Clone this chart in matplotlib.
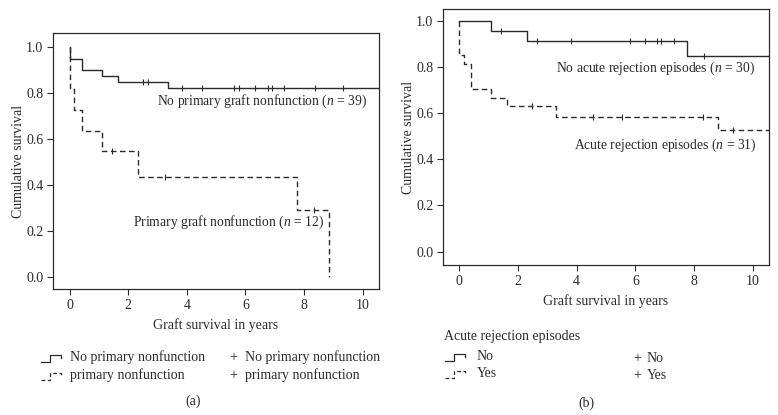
import numpy as np
import matplotlib
matplotlib.use("Agg")
import matplotlib.pyplot as plt
from matplotlib.lines import Line2D

plt.rcParams["font.family"] = "Liberation Serif"
plt.rcParams["mathtext.fontset"] = "custom"
plt.rcParams["mathtext.it"] = "Liberation Serif:italic"
plt.rcParams["mathtext.rm"] = "Liberation Serif"

# Kaplan-Meier Stufen (Zeit in Jahren, kumulatives Ueberleben)
# (a) primaere Transplantat-Nichtfunktion
t_no_pnf = [0, 0, 0.41, 1.09, 1.66, 3.34, 10.6]
s_no_pnf = [1.0, 0.949, 0.897, 0.872, 0.846, 0.821, 0.821]
c_no_pnf = [2.49, 2.66, 3.82, 4.50, 5.62, 5.79, 6.32, 6.76, 6.89, 7.32, 8.37, 9.34]

t_pnf = [0, 0, 0.16, 0.41, 1.09, 2.32, 7.77, 8.85]
s_pnf = [1.0, 0.818, 0.727, 0.636, 0.545, 0.436, 0.291, 0.0]
c_pnf = [1.43, 3.25, 8.35]

# (b) akute Abstossungsepisoden
t_no_ar = [0, 1.08, 2.33, 7.76, 10.6]
s_no_ar = [1.0, 0.957, 0.912, 0.847, 0.847]
c_no_ar = [1.42, 2.67, 3.82, 5.83, 6.32, 6.73, 6.87, 7.30, 8.32]

t_ar = [0, 0, 0.19, 0.40, 1.08, 1.65, 3.29, 8.81, 10.6]
s_ar = [1.0, 0.852, 0.815, 0.705, 0.667, 0.630, 0.585, 0.527, 0.527]
c_ar = [2.47, 4.55, 5.56, 8.29, 9.30]

yticks = [0.0, 0.2, 0.4, 0.6, 0.8, 1.0]
xticks = [0, 2, 4, 6, 8, 10]

col = "#2b2b2b"
dash = (0, (4, 2.5))


def surv_at(t, s, x):
    i = np.searchsorted(t, x, side="right") - 1
    return s[i]


def km(ax, t, s, cens, ls):
    ax.step(t, s, where="post", color=col, lw=1.0, linestyle=ls)
    cy = [surv_at(t, s, c) for c in cens]
    ax.plot(cens, cy, linestyle="none", marker="|", ms=4, mew=0.8, color=col)


def style(ax, ylim, xlim):
    ax.set_xlim(*xlim)
    ax.set_ylim(*ylim)
    ax.set_xticks(xticks)
    ax.set_yticks(yticks)
    ax.set_yticklabels([f"{v:.1f}" for v in yticks])
    ax.tick_params(labelsize=10, length=4, width=0.8, pad=3, colors=col)
    for sp in ax.spines.values():
        sp.set_linewidth(0.9)
        sp.set_color(col)
    ax.set_ylabel("Cumulative survival", fontsize=10, color=col, labelpad=1)


fig = plt.figure(figsize=(7.78, 4.15), dpi=100)

W, H = 778.0, 415.0
ax1 = fig.add_axes([53 / W, 1 - 289 / H, 326 / W, 256 / H])
ax2 = fig.add_axes([443 / W, 1 - 265 / H, 326 / W, 256 / H])

km(ax1, t_no_pnf, s_no_pnf, c_no_pnf, "-")
km(ax1, t_pnf, s_pnf, c_pnf, dash)
style(ax1, (-0.053, 1.06), (-0.57, 10.56))
ax1.set_xlabel("Graft survival in years", fontsize=10, color=col, labelpad=5)
ax1.text(2.98, 0.761, "No primary graft nonfunction ($n$ = 39)", fontsize=9.8,
         va="center", color=col)
ax1.text(2.15, 0.235, "Primary graft nonfunction ($n$ = 12)", fontsize=9.8,
         va="center", color=col)

km(ax2, t_no_ar, s_no_ar, c_no_ar, "-")
km(ax2, t_ar, s_ar, c_ar, dash)
style(ax2, (-0.058, 1.052), (-0.54, 10.54))
ax2.set_xlabel("Graft survival in years", fontsize=10, color=col, labelpad=5)
ax2.text(3.31, 0.795, "No acute rejection episodes ($n$ = 30)", fontsize=9.8,
         va="center", color=col)
ax2.text(3.91, 0.462, "Acute rejection episodes ($n$ = 31)", fontsize=9.8,
         va="center", color=col)


# Legende unten, per Hand
def step_glyph(x, y, ls):
    # x, y in Pixel (links, Mitte), y nach unten
    gx = np.array([0, 9, 9, 20, 20]) + x
    gy = np.array([3.5, 3.5, -3.5, -3.5, 0]) + y
    fig.add_artist(Line2D(gx / W, 1 - gy / H, color=col, lw=0.9, linestyle=ls))


def leg_text(x, y, s):
    fig.text(x / W, 1 - y / H, s, fontsize=10, va="center", ha="left", color=col)


step_glyph(41, 358, "-")
leg_text(70, 357, "No primary nonfunction")
step_glyph(41, 376, (0, (3, 2)))
leg_text(70, 375, "primary nonfunction")
leg_text(229, 358, "+")
leg_text(245, 357, "No primary nonfunction")
leg_text(229, 376, "+")
leg_text(245, 375, "primary nonfunction")
fig.text(193 / W, 1 - 401 / H, "(a)", fontsize=10, ha="center", va="center", color=col)

leg_text(444, 336, "Acute rejection episodes")
step_glyph(445, 357, "-")
leg_text(477, 356, "No")
step_glyph(445, 374, (0, (3, 2)))
leg_text(477, 373, "Yes")
leg_text(633, 359, "+")
leg_text(647, 358, "No")
leg_text(633, 376, "+")
leg_text(647, 375, "Yes")
fig.text(586 / W, 1 - 403 / H, "(b)", fontsize=10, ha="center", va="center", color=col)

fig.savefig("out.png", dpi=100)
